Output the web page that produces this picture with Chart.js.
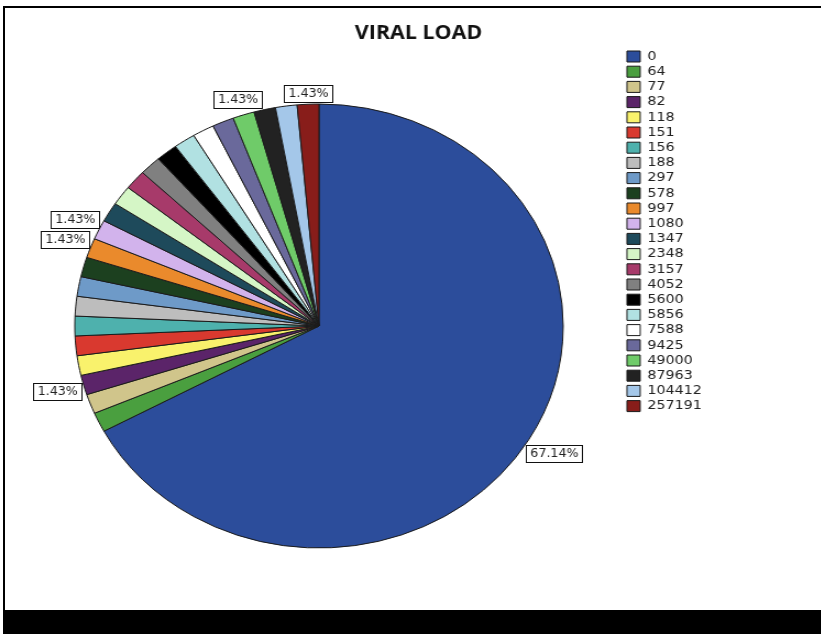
<!DOCTYPE html>
<html>
<head>
<meta charset="utf-8">
<title>VIRAL LOAD</title>
<script src="https://cdn.jsdelivr.net/npm/chart.js"></script>
<style>
  html, body { margin: 0; padding: 0; background: #ffffff; overflow: hidden; }
  body { width: 821px; height: 634px; position: relative; }
  .frame {
    position: absolute; left: 3px; top: 6px; right: 0; height: 604px;
    border-top: 2px solid #000; border-left: 2px solid #000;
    box-sizing: border-box;
  }
  .band { position: absolute; left: 3px; right: 0; top: 610px; bottom: 0; background: #000; }
  /* the figure is rendered slightly wider than tall */
  .stage {
    position: absolute; left: 0; top: 0; width: 746px; height: 634px;
    transform: scaleX(1.1); transform-origin: 0 0;
  }
</style>
</head>
<body>
<div class="frame"></div>
<div class="band"></div>
<div class="stage"><canvas id="chart" width="746" height="634"></canvas></div>
<script>
// Viral load values (copies/mL) and number of patients at each value
const categories = ['0', '64', '77', '82', '118', '151', '156', '188', '297', '578', '997', '1080',
  '1347', '2348', '3157', '4052', '5600', '5856', '7588', '9425', '49000', '87963', '104412', '257191'];
const patientCounts = [47, 1, 1, 1, 1, 1, 1, 1, 1, 1, 1, 1, 1, 1, 1, 1, 1, 1, 1, 1, 1, 1, 1, 1];
const sliceColors = ['#2c4d9b', '#4a9f3f', '#d0c58b', '#5b2469', '#f9f26c', '#d9392f', '#4eb1ad',
  '#bdbdbd', '#6e9ac8', '#1c401f', '#ea8a2c', '#d2b3ec', '#1e4a5b', '#d5f6c6', '#a73a6a', '#808080',
  '#000000', '#b1e1e2', '#ffffff', '#6a699b', '#6fcb69', '#222222', '#a4c7e9', '#881d1a'];
// slices whose share is written next to them
const labelledCategories = ['0', '82', '997', '1080', '49000', '257191'];
const chartTitle = 'VIRAL LOAD';

const totalPatients = patientCounts.reduce((a, b) => a + b, 0);
const percentText = v => (v / totalPatients * 100).toFixed(2) + '%';

// Bordered percentage boxes placed just outside the rim along each slice's mid-angle
const sliceLabels = {
  id: 'sliceLabels',
  afterDatasetsDraw(chart, args, opts) {
    const ctx = chart.ctx;
    const meta = chart.getDatasetMeta(0);
    const values = chart.data.datasets[0].data;
    ctx.save();
    ctx.font = opts.font;
    ctx.textAlign = 'center';
    ctx.textBaseline = 'middle';
    ctx.lineWidth = 1;
    chart.data.labels.forEach((cat, i) => {
      if (!opts.show.includes(cat)) return;
      const arc = meta.data[i];
      const p = arc.getProps(['x', 'y', 'startAngle', 'endAngle', 'outerRadius'], true);
      const mid = (p.startAngle + p.endAngle) / 2;
      const ux = Math.cos(mid), uy = Math.sin(mid);
      const text = percentText(values[i]);
      const w = Math.round(ctx.measureText(text).width + 2 * opts.padX);
      const h = opts.boxHeight;
      const d = p.outerRadius + Math.abs(ux) * w / 2 + Math.abs(uy) * h / 2 + opts.gap;
      const cx = p.x + ux * d, cy = p.y + uy * d;
      const left = Math.round(cx - w / 2) + 0.5, top = Math.round(cy - h / 2) + 0.5;
      ctx.fillStyle = '#ffffff';
      ctx.fillRect(left, top, w, h);
      ctx.strokeStyle = '#111111';
      ctx.strokeRect(left, top, w, h);
      ctx.fillStyle = '#222222';
      ctx.fillText(text, left + w / 2, top + h / 2 + 0.5);
    });
    ctx.restore();
  }
};

// Chart heading, centred over the whole figure
const heading = {
  id: 'heading',
  afterDraw(chart, args, opts) {
    const ctx = chart.ctx;
    ctx.save();
    ctx.font = opts.font;
    ctx.fillStyle = '#111111';
    ctx.textAlign = 'center';
    ctx.textBaseline = 'middle';
    ctx.fillText(opts.text, opts.x, opts.y);
    ctx.restore();
  }
};

new Chart(document.getElementById('chart'), {
  type: 'pie',
  data: {
    labels: categories,
    datasets: [{
      data: patientCounts,
      backgroundColor: sliceColors,
      borderColor: '#1a1a1a',
      borderWidth: 1,
      radius: 222
    }]
  },
  options: {
    responsive: false,
    animation: false,
    events: [],
    layout: { padding: { left: 12.2, top: 47.8, right: 97.9, bottom: 29.8 } },
    plugins: {
      title: { display: false },
      tooltip: { enabled: false },
      legend: {
        position: 'right',
        align: 'start',
        labels: {
          boxWidth: 12,
          boxHeight: 11,
          padding: 2.2,
          color: '#222222',
          font: { family: 'DejaVu Sans', size: 13 }
        }
      },
      sliceLabels: {
        show: labelledCategories,
        font: '11.5px "DejaVu Sans"',
        padX: 3.5,
        boxHeight: 17,
        gap: 1
      },
      heading: {
        text: chartTitle,
        font: 'bold 19.5px "Open Sans"',
        x: 380.5,
        y: 33.5
      }
    }
  },
  plugins: [sliceLabels, heading]
});
</script>
</body>
</html>
